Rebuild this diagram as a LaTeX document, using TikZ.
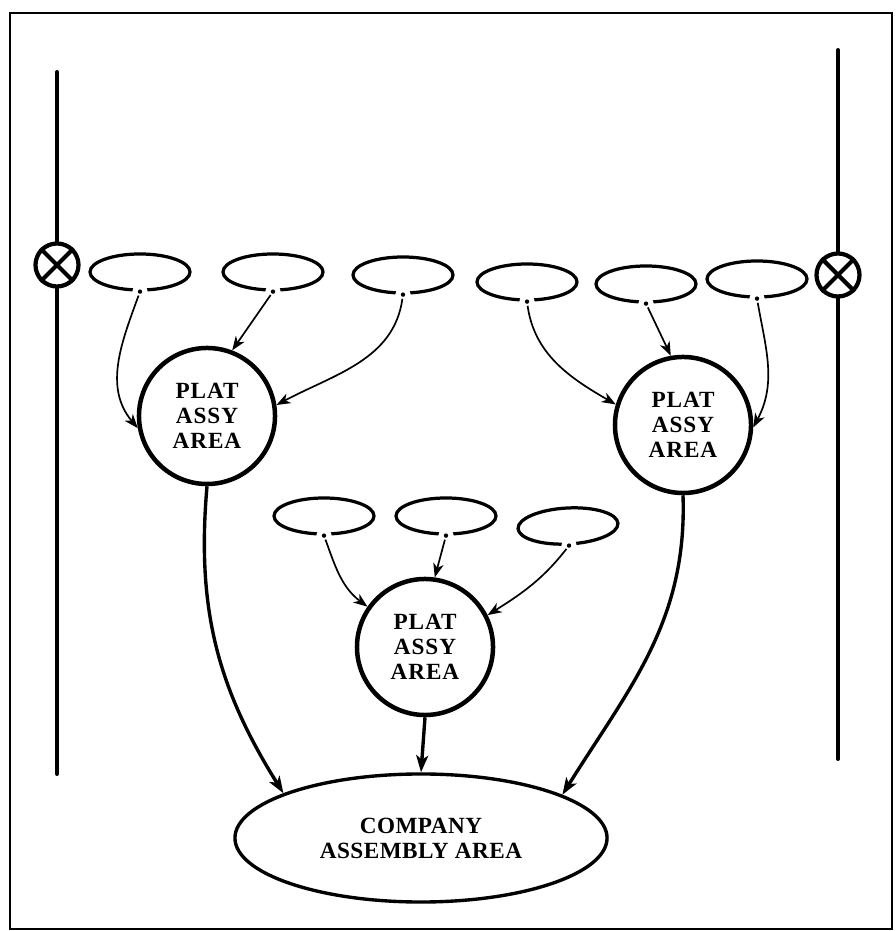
\documentclass[tikz,border=0pt]{standalone}
\usepackage{fontspec}
\setmainfont{Liberation Serif}
\usepackage{tikz}
\usetikzlibrary{arrows.meta}
\usetikzlibrary{shapes.geometric}
\def\partw{2.5cm}
\def\parth{0.9cm}
\def\platd{3.4cm}
\tikzset{
  part/.style={draw, ellipse, line width=2.3pt, minimum width=\partw, minimum height=\parth, inner sep=0pt},
  gap/.style={circle, fill=white, inner sep=0pt, minimum size=0.38cm},
  plat/.style={draw, circle, line width=3.2pt, minimum size=\platd, inner sep=0pt, align=center,
    font=\fontsize{16.5}{17.7}\selectfont\bfseries\addfontfeature{LetterSpace=4}},
  company/.style={draw, ellipse, line width=2.4pt, minimum width=9.3cm, minimum height=3.2cm, inner sep=0pt, align=center,
    font=\fontsize{16.5}{17.7}\selectfont\bfseries\addfontfeature{LetterSpace=2}},
  valve/.style={draw, circle, fill=white, line width=3pt, minimum size=1.075cm, inner sep=0pt},
  rail/.style={line width=2.8pt, line cap=round},
  feed/.style={line width=1.2pt, shorten <=3pt, -{Stealth[length=10pt, width=7.5pt, inset=3pt]}},
  flow/.style={line width=2.4pt, -{Stealth[length=12pt, width=8.5pt, inset=3pt]}}
}

\begin{document}
\begin{tikzpicture}[x=0.025cm, y=0.025cm]
  \useasboundingbox (0,0) rectangle (895,931);
  \draw[line width=1.4pt] (10,2) rectangle (892,918);

  % rails with valves
  \coordinate (lt) at (57,859);
  \coordinate (lb) at (57,157);
  \coordinate (rt) at (838,881);
  \coordinate (rb) at (838,172);
  \draw[rail] (lt) -- (lb);
  \draw[rail] (rt) -- (rb);
  \node[valve] (v1) at (57,666) {};
  \node[valve] (v2) at (838,656) {};
  \foreach \v in {v1,v2}
    \draw[line width=3pt] (\v.north west) -- (\v.south east) (\v.north east) -- (\v.south west);

  % parts
  \node[part] (e1) at (140,659) {};
  \node[part] (e2) at (273,659) {};
  \node[part] (e3) at (403,656) {};
  \node[part] (e4) at (527,649) {};
  \node[part] (e5) at (646,647) {};
  \node[part] (e6) at (757,652) {};
  \node[part] (e7) at (324,415) {};
  \node[part] (e8) at (446,415) {};
  \node[part, rotate=3] (e9) at (568,405) {};
  \foreach \e in {e1,e2,e3,e4,e5,e6,e7,e8,e9} {
    \node[gap] at (\e.south) {};
    \fill (\e.south) circle (2.2);
  }

  % assembly areas
  \node[plat] (p1) at (207,515) {PLAT\\ASSY\\AREA};
  \node[plat] (p2) at (683,506) {PLAT\\ASSY\\AREA};
  \node[plat] (p3) at (425,284) {PLAT\\ASSY\\AREA};
  \node[company] (caa) at (421,93) {COMPANY\\ASSEMBLY AREA};

  % parts to platoon areas
  \draw[feed] (e1.south) to[out=250, in=130] (p1.190);
  \draw[feed] (e2.south) -- (p1.69);
  \draw[feed] (e3.south) to[out=262, in=28] (p1.9);
  \draw[feed] (e4.south) to[out=-82, in=150] (p2.163);
  \draw[feed] (e5.south) -- (p2.100);
  \draw[feed] (e6.south) to[out=-80, in=62] (p2.-2);
  \draw[feed] (e7.south) to[out=-70, in=143] (p3.145);
  \draw[feed] (e8.south) -- (p3.82);
  \draw[feed] (e9.south) to[out=-128, in=32] (p3.27);

  % platoon areas to company
  \draw[flow] (p1.south) to[out=-95, in=122] (caa.162);
  \draw[flow] (p3.south) -- (caa.north);
  \draw[flow] (p2.south) to[out=-88, in=58] (caa.17);
\end{tikzpicture}
\end{document}
